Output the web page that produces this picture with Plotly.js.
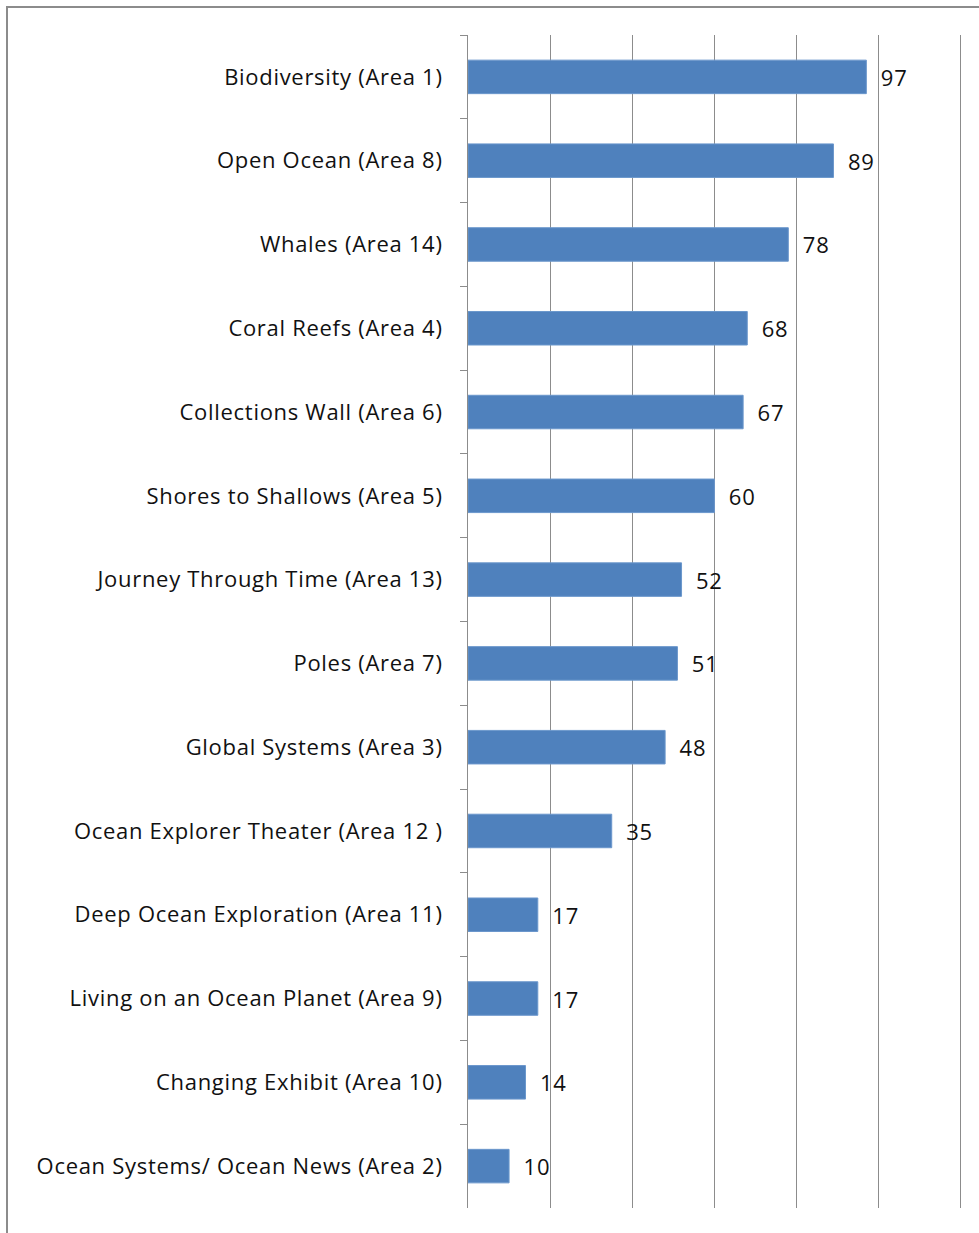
<!DOCTYPE html>
<html>
<head>
<meta charset="utf-8">
<script src="https://cdn.plot.ly/plotly-3.0.1.min.js"></script>
<style>
  html, body { margin: 0; padding: 0; background: #fff; }
  #wrap { position: relative; width: 979px; height: 1233px; overflow: hidden; }
  #chart { position: absolute; left: 0; top: 0; width: 979px; height: 1233px; }
  #frame { position: absolute; left: 6px; top: 6px; width: 1200px; height: 1400px;
           border-left: 2px solid #8c8c8c; border-top: 2px solid #8c8c8c; pointer-events: none; }
  #chart .ytick text { letter-spacing: 0.7px; }
  #chart .bartext { letter-spacing: 0.8px; }
</style>
</head>
<body>
<div id="wrap">
  <div id="chart"></div>
  <div id="frame"></div>
</div>
<script>
const categories = [
  "Biodiversity (Area 1)",
  "Open Ocean (Area 8)",
  "Whales (Area 14)",
  "Coral Reefs (Area 4)",
  "Collections Wall (Area 6)",
  "Shores to Shallows (Area 5)",
  "Journey Through Time (Area 13)",
  "Poles (Area 7)",
  "Global Systems (Area 3)",
  "Ocean Explorer Theater (Area 12 )",
  "Deep Ocean Exploration (Area 11)",
  "Living on an Ocean Planet (Area 9)",
  "Changing Exhibit (Area 10)",
  "Ocean Systems/ Ocean News (Area 2)"
];
const values = [97, 89, 78, 68, 67, 60, 52, 51, 48, 35, 17, 17, 14, 10];

const FONT = "'Open Sans', 'Noto Sans', sans-serif";

const trace = {
  type: "bar",
  orientation: "h",
  y: categories,
  x: values,
  marker: { color: "#4F81BD", line: { color: "#6b97cc", width: 1 } },
  text: values.map(v => "\u00a0\u00a0" + v),
  textposition: "outside",
  textfont: { family: FONT, size: 22, color: "#111" },
  cliponaxis: false,
  hoverinfo: "x+y"
};

const layout = {
  width: 979,
  height: 1233,
  margin: { l: 468, r: 10, t: 35, b: 25, pad: 0 },
  paper_bgcolor: "#fff",
  plot_bgcolor: "#fff",
  showlegend: false,
  bargap: 0.6,
  font: { family: FONT, color: "#111" },
  xaxis: {
    range: [0, 122],
    dtick: 20,
    tick0: 0,
    showgrid: true,
    gridcolor: "#8c8c8c",
    gridwidth: 1,
    zeroline: false,
    showline: false,
    showticklabels: false,
    ticks: ""
  },
  yaxis: {
    type: "category",
    autorange: "reversed",
    showline: true,
    linecolor: "#8c8c8c",
    linewidth: 1,
    ticks: "outside",
    ticklen: 7,
    tickcolor: "#8c8c8c",
    tickson: "boundaries",
    showgrid: false,
    ticklabelstandoff: 20,
    tickfont: { family: FONT, size: 22, color: "#111" }
  }
};

Plotly.newPlot("chart", [trace], layout, { displayModeBar: false, staticPlot: true });
</script>
</body>
</html>
